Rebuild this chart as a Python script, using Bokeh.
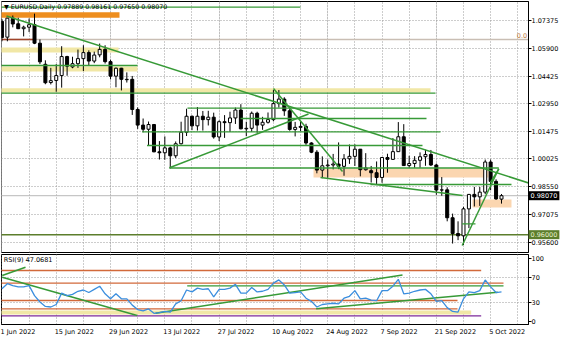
from bokeh.plotting import figure
from bokeh.layouts import column
from bokeh.models import ColumnDataSource, Range1d, FixedTicker, Label, Grid
from bokeh.embed import file_html
from bokeh.resources import INLINE

# ---------------- data ----------------
dates = ["2022-06-01","2022-06-02","2022-06-03","2022-06-06","2022-06-07","2022-06-08","2022-06-09","2022-06-10",
         "2022-06-13","2022-06-14","2022-06-15","2022-06-16","2022-06-17","2022-06-20","2022-06-21","2022-06-22",
         "2022-06-23","2022-06-24","2022-06-27","2022-06-28","2022-06-29","2022-06-30","2022-07-01","2022-07-04",
         "2022-07-05","2022-07-06","2022-07-07","2022-07-08","2022-07-11","2022-07-12","2022-07-13","2022-07-14",
         "2022-07-15","2022-07-18","2022-07-19","2022-07-20","2022-07-21","2022-07-22","2022-07-25","2022-07-26",
         "2022-07-27","2022-07-28","2022-07-29","2022-08-01","2022-08-02","2022-08-03","2022-08-04","2022-08-05",
         "2022-08-08","2022-08-09","2022-08-10","2022-08-11","2022-08-12","2022-08-15","2022-08-16","2022-08-17",
         "2022-08-18","2022-08-19","2022-08-22","2022-08-23","2022-08-24","2022-08-25","2022-08-26","2022-08-29",
         "2022-08-30","2022-08-31","2022-09-01","2022-09-02","2022-09-05","2022-09-06","2022-09-07","2022-09-08",
         "2022-09-09","2022-09-12","2022-09-13","2022-09-14","2022-09-15","2022-09-16","2022-09-19","2022-09-20",
         "2022-09-21","2022-09-22","2022-09-23","2022-09-26","2022-09-27","2022-09-28","2022-09-29","2022-09-30",
         "2022-10-03","2022-10-04","2022-10-05","2022-10-06","2022-10-07"]

opens = [1.0733,1.0649,1.0750,1.0720,1.0694,1.0702,1.0716,1.0617,1.0505,1.0408,1.0419,1.0445,1.0546,1.0491,1.0508,1.0535,
         1.0567,1.0522,1.0555,1.0584,1.0519,1.0442,1.0484,1.0423,1.0425,1.0265,1.0182,1.0160,1.0185,1.0040,1.0035,1.0061,
         1.0019,1.0083,1.0144,1.0229,1.0178,1.0229,1.0211,1.0224,1.0119,1.0200,1.0195,1.0220,1.0262,1.0162,1.0165,1.0245,
         1.0182,1.0197,1.0211,1.0296,1.0320,1.0258,1.0159,1.0170,1.0175,1.0087,1.0038,0.9943,0.9966,0.9970,0.9975,0.9963,
         1.0003,1.0016,1.0054,0.9945,0.9940,0.9929,0.9904,1.0010,1.0000,1.0041,1.0120,0.9967,0.9978,0.9995,1.0014,1.0026,
         0.9970,0.9837,0.9838,0.9690,0.9606,0.9594,0.9737,0.9814,0.9801,0.9826,0.9986,0.9883,0.97889]
highs = [1.0746,1.0751,1.0764,1.0752,1.0710,1.0748,1.0774,1.0637,1.0526,1.0486,1.0506,1.0601,1.0550,1.0545,1.0583,1.0606,
         1.0579,1.0572,1.0615,1.0606,1.0529,1.0488,1.0486,1.0462,1.0443,1.0276,1.0217,1.0201,1.0188,1.0097,1.0122,1.0068,
         1.0095,1.0200,1.0269,1.0233,1.0278,1.0257,1.0258,1.0248,1.0207,1.0235,1.0253,1.0275,1.0293,1.0200,1.0254,1.0253,
         1.0226,1.0249,1.0368,1.0368,1.0330,1.0269,1.0199,1.0202,1.0189,1.0091,1.0049,1.0016,0.9999,1.0029,1.0090,1.0028,
         1.0079,1.0080,1.0055,1.0033,0.9965,0.9989,1.0011,1.0030,1.0113,1.0198,1.0187,1.0019,1.0017,1.0037,1.0051,1.0050,
         0.9977,0.9906,0.9852,0.9712,0.9671,0.9748,0.9816,0.9854,0.9854,0.9999,0.9999,0.9894,0.98161]
lows = [1.0627,1.0627,1.0701,1.0692,1.0653,1.0676,1.0612,1.0506,1.0399,1.0398,1.0359,1.0381,1.0444,1.0484,1.0486,1.0469,
        1.0498,1.0511,1.0542,1.0509,1.0425,1.0383,1.0366,1.0408,1.0236,1.0162,1.0144,1.0072,1.0038,0.9999,0.9998,0.9952,
        1.0007,1.0079,1.0124,1.0155,1.0153,1.0153,1.0180,1.0110,1.0097,1.0114,1.0146,1.0188,1.0160,1.0123,1.0146,1.0141,
        1.0157,1.0190,1.0202,1.0275,1.0231,1.0152,1.0122,1.0150,1.0077,1.0033,0.9926,0.9900,0.9902,0.9947,0.9948,0.9913,
        0.9976,0.9965,0.9910,0.9940,0.9877,0.9864,0.9876,0.9929,0.9998,1.0041,0.9966,0.9955,0.9955,0.9955,0.9966,0.9965,
        0.9812,0.9807,0.9671,0.9553,0.9571,0.9545,0.9635,0.9750,0.9753,0.9815,0.9836,0.9785,0.97650]
closes = [1.0647,1.0750,1.0719,1.0694,1.0702,1.0715,1.0617,1.0518,1.0407,1.0418,1.0445,1.0546,1.0495,1.0508,1.0535,1.0567,
          1.0522,1.0554,1.0584,1.0519,1.0442,1.0484,1.0425,1.0425,1.0265,1.0182,1.0160,1.0185,1.0040,1.0035,1.0061,1.0019,
          1.0083,1.0144,1.0229,1.0178,1.0229,1.0211,1.0224,1.0119,1.0200,1.0195,1.0220,1.0262,1.0162,1.0165,1.0245,1.0182,
          1.0197,1.0211,1.0296,1.0320,1.0258,1.0159,1.0170,1.0175,1.0087,1.0038,0.9943,0.9966,0.9970,0.9975,0.9963,1.0003,
          1.0016,1.0054,0.9945,0.9954,0.9929,0.9904,1.0010,1.0000,1.0041,1.0120,0.9967,0.9978,0.9995,1.0014,1.0026,0.9970,
          0.9837,0.9838,0.9690,0.9606,0.9594,0.9737,0.9814,0.9801,0.9826,0.9986,0.9883,0.9790,0.98070]

rsi_values = [52,60,57,55,55,57,41,31,24,23,27,45,41,43,48,50,46,51,56,44,36,44,36,36,26,19,17,20,13,14,16,15,
              28,33,50,47,53,51,52,39,51,51,53,59,45,45,54,47,48,51,61,66,58,45,46,47,37,32,23,27,28,29,28,37,
              40,49,36,37,34,33,49,49,56,67,44,45,48,50,51,44,32,33,22,16,15,36,47,46,49,66,55,46,47.07]

price_ticks = [1.07375, 1.05900, 1.04425, 1.02950, 1.01475, 1.00025, 0.98550, 0.97075, 0.95600]
price_tick_labels = ["1.07375", "1.05900", "1.04425", "1.02950", "1.01475", "1.00025", "0.98550", "0.97075", "0.95600"]
rsi_ticks = [100, 70, 30, 0]
rsi_tick_labels = ["100", "70", "30", "0"]
date_tick_idx = [0, 10, 20, 30, 40, 50, 60, 70, 80, 90]
date_tick_labels = ["1 Jun 2022", "15 Jun 2022", "29 Jun 2022", "13 Jul 2022", "27 Jul 2022",
                    "10 Aug 2022", "24 Aug 2022", "7 Sep 2022", "21 Sep 2022", "5 Oct 2022"]
header_text = "\u25BC EURUSD,Daily  0.97889 0.98161 0.97650 0.98070"
rsi_header = "RSI(9) 47.0681"
bid_price = 0.98070
support_price = 0.96000
fib_price = 1.06366

# drawn objects (bar index, price)
orange_bands = [(-1.0, 21.65, 1.07518, 1.07816)]
yellow_bands = [(-1.0, 21.47, 1.05676, 1.05941), (-1.0, 24.97, 1.04667, 1.04932), (-1.0, 78.93, 1.03551, 1.03780)]
peach_bands = [(57.38, 89.60, 0.99037, 0.99515), (86.66, 93.84, 0.97444, 0.97869)]
green_hlines = [(-1.0, 54.98, 1.08081), (-1.0, 24.97, 1.04985), (-1.0, 79.85, 1.03514), (34.17, 78.93, 1.02718),
                (43.94, 78.19, 1.02171), (25.83, 80.77, 1.01464), (26.72, 77.45, 1.00737), (30.86, 91.50, 0.99542),
                (67.88, 93.84, 0.98666), (84.76, 87.21, 0.96578)]
red_hlines = [(-1.0, 6.18, 1.06366)]
trendlines = [(0.84, 1.07614, 97.5, 0.98700), (30.86, 0.99553, 56.46, 1.02410), (50.01, 1.03764, 62.72, 0.99356),
              (58.67, 0.99037, 84.82, 0.98081), (84.76, 0.95426, 91.50, 0.99499), (91.50, 0.99499, 89.97, 0.98772)]

rsi_brown_lines = [(-1.0, 88.26, 80.95), (-1.0, 92.37, 60.79), (-1.0, 83.90, 33.33), (-1.0, 83.90, 20.16)]
rsi_yellow_bands = [(-1.0, 86.42, 11.11, 17.46)]
rsi_purple_lines = [(-1.0, 88.26, 9.05)]
rsi_green_hlines = [(34.12, 92.37, 56.67)]
rsi_trendlines = [(0.05, 70.32, 24.91, 9.52), (0.05, 73.00, 4.34, 86.19), (28.28, 13.17, 73.77, 73.81),
                  (57.87, 20.16, 91.32, 46.51)]

# ---------------- style ----------------
FONT = "DejaVu Sans"
FS = "6.5px"
BAR_PX = 5.43
FRAME_W = 527
X_START = -0.08
X_END = X_START + FRAME_W / BAR_PX
GREEN = "#379a37"
GRID = "#9a9a9a"

xr = Range1d(X_START, X_END)
n = len(closes)
idx = list(range(n))
vgrid = list(range(0, 100, 5))


def style_axis(ax):
    ax.major_label_text_font = FONT
    ax.major_label_text_font_size = FS
    ax.major_label_text_color = "black"
    ax.axis_line_color = "black"
    ax.major_tick_line_color = "black"
    ax.major_tick_out = 3
    ax.major_tick_in = 0
    ax.minor_tick_out = 0
    ax.minor_tick_in = 0
    ax.major_label_standoff = 0


def quads(p, rows, color, alpha=1.0):
    p.quad(left=[r[0] for r in rows], right=[r[1] for r in rows], bottom=[r[2] for r in rows],
           top=[r[3] for r in rows], fill_color=color, fill_alpha=alpha, line_color=None)


def hsegs(p, rows, color, width):
    p.segment(x0=[r[0] for r in rows], x1=[r[1] for r in rows], y0=[r[2] for r in rows],
              y1=[r[2] for r in rows], line_color=color, line_width=width)


def tsegs(p, rows, color, width):
    p.segment(x0=[r[0] for r in rows], y0=[r[1] for r in rows], x1=[r[2] for r in rows],
              y1=[r[3] for r in rows], line_color=color, line_width=width)


# ---------------- main price panel ----------------
main = figure(frame_width=FRAME_W, frame_height=251, x_range=xr, y_range=Range1d(0.95054, 1.08384),
              x_axis_location=None, y_axis_location="right", output_backend="svg", toolbar_location=None,
              min_border_left=1, min_border_top=1, min_border_bottom=1, min_border_right=0,
              outline_line_color="black", outline_line_width=1, background_fill_color="white")
ya = main.yaxis[0]
ya.ticker = FixedTicker(ticks=price_ticks)
ya.major_label_overrides = dict(zip(price_ticks, price_tick_labels))
style_axis(ya)
main.ygrid.ticker = FixedTicker(ticks=price_ticks)
main.ygrid.grid_line_color = GRID
main.ygrid.grid_line_dash = "1 2"
main.add_layout(Grid(dimension=0, ticker=FixedTicker(ticks=vgrid), grid_line_color=GRID, grid_line_dash="1 2"))

quads(main, orange_bands, "#ee8e1e")
quads(main, yellow_bands, "#f1e7a6")
quads(main, peach_bands, "#fbd6b0")

main.segment(x0=[-1], x1=[100], y0=[fib_price], y1=[fib_price], line_color="#c9beb4", line_width=1.5)
main.segment(x0=[-1], x1=[100], y0=[bid_price], y1=[bid_price], line_color="#b8b8b8", line_width=1)
main.segment(x0=[-1], x1=[100], y0=[support_price], y1=[support_price], line_color="#5c7e2c", line_width=1.5)
hsegs(main, red_hlines, "#a0442a", 1.5)

body_top = [max(o, c) for o, c in zip(opens, closes)]
body_bot = [min(o, c) for o, c in zip(opens, closes)]
fills = ["white" if c >= o else "black" for o, c in zip(opens, closes)]
src = ColumnDataSource(dict(x=idx, h=highs, l=lows, t=body_top, b=body_bot, fill=fills))
main.segment(x0="x", y0="h", x1="x", y1="l", source=src, line_color="black", line_width=1)
main.vbar(x="x", width=0.55, top="t", bottom="b", fill_color="fill", line_color="black", line_width=1, source=src)

hsegs(main, green_hlines, GREEN, 1.3)
tsegs(main, trendlines, GREEN, 1.5)

main.add_layout(Label(x=0.38, y=1.08145, text=header_text, text_font=FONT, text_font_size="6.3px",
                      text_baseline="middle", text_align="left", text_color="black"))
main.add_layout(Label(x=X_END - 0.25, y=1.06552, text="0.0", text_font=FONT, text_font_size=FS,
                      text_baseline="middle", text_align="left" if False else "right", text_color="#c07a45"))
# price boxes sit over the price scale, so they go into the right-hand panel (not clipped to the frame)
main.add_layout(Label(x=X_END, y=bid_price, x_offset=0, text="0.98070", text_font=FONT, text_font_size=FS,
                      text_baseline="middle", text_align="left", text_color="white",
                      background_fill_color="black", padding=2), "right")
main.add_layout(Label(x=X_END, y=support_price, x_offset=0, text="0.96000", text_font=FONT, text_font_size=FS,
                      text_baseline="middle", text_align="left", text_color="#e8f0d0",
                      background_fill_color="#5c7e2c", padding=2), "right")

# ---------------- RSI panel ----------------
rsi_fig = figure(frame_width=FRAME_W, frame_height=70, x_range=xr, y_range=Range1d(-4.76, 106.35),
                 y_axis_location="right", output_backend="svg", toolbar_location=None,
                 min_border_left=1, min_border_top=1, min_border_bottom=0, min_border_right=0,
                 outline_line_color="black", outline_line_width=1, background_fill_color="white")
ra = rsi_fig.yaxis[0]
ra.ticker = FixedTicker(ticks=rsi_ticks)
ra.major_label_overrides = dict(zip(rsi_ticks, rsi_tick_labels))
style_axis(ra)

em = {"0": .636, "1": .636, "2": .636, "3": .636, "4": .636, "5": .636, "6": .636, "7": .636, "8": .636,
      "9": .636, " ": .318, "J": .295, "u": .634, "n": .634, "l": .278, "A": .684, "g": .635, "S": .635,
      "e": .615, "p": .635, "O": .787, "c": .55, "t": .392}


def text_w(s):
    return sum(em.get(ch, .6) for ch in s) * 6.5


centers = [round(i - 1.5 / BAR_PX + text_w(lab) / 2 / BAR_PX, 4) for i, lab in zip(date_tick_idx, date_tick_labels)]
xa = rsi_fig.xaxis[0]
xa.ticker = FixedTicker(ticks=centers)
xa.major_label_overrides = dict(zip(centers, date_tick_labels))
style_axis(xa)
xa.major_tick_out = 0
xa.major_label_standoff = 3

rsi_fig.ygrid.ticker = FixedTicker(ticks=[30, 70])
rsi_fig.ygrid.grid_line_color = GRID
rsi_fig.ygrid.grid_line_dash = "1 2"
rsi_fig.xgrid.ticker = FixedTicker(ticks=vgrid)
rsi_fig.xgrid.grid_line_color = GRID
rsi_fig.xgrid.grid_line_dash = "1 2"

quads(rsi_fig, rsi_yellow_bands, "#f1e7a6")
hsegs(rsi_fig, rsi_brown_lines, "#d2693a", 1.3)
hsegs(rsi_fig, rsi_purple_lines, "#7d2a9a", 1.3)
hsegs(rsi_fig, rsi_green_hlines, GREEN, 1.3)
tsegs(rsi_fig, rsi_trendlines, GREEN, 1.5)
rsi_fig.line(idx, rsi_values, line_color="#3b8ede", line_width=1.3)

rsi_fig.add_layout(Label(x=0.34, y=97.6, text=rsi_header, text_font=FONT, text_font_size=FS,
                         text_baseline="middle", text_align="left", text_color="black"))

layout = column(main, rsi_fig, spacing=0)
open("out.html", "w").write(file_html(layout, INLINE))
